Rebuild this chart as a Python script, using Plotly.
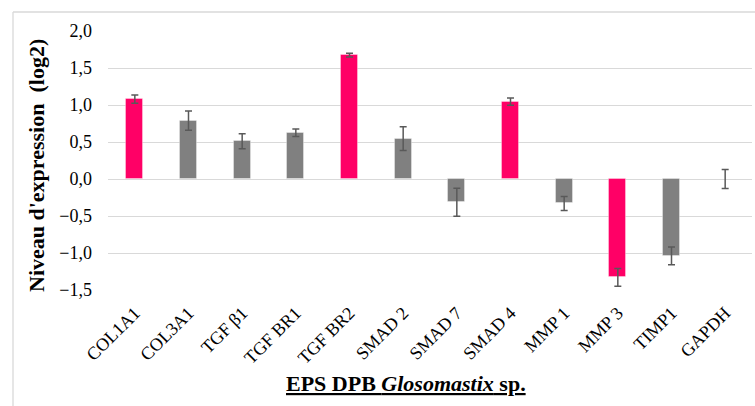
import plotly.graph_objects as go

categories = ["COL1A1", "COL3A1", "TGF β1", "TGF BR1", "TGF BR2", "SMAD 2",
              "SMAD 7", "SMAD 4", "MMP 1", "MMP 3", "TIMP1", "GAPDH"]
values = [1.08, 0.79, 0.51, 0.625, 1.675, 0.545, -0.315, 1.045, -0.33, -1.33, -1.04, 0.0]
errors = [0.055, 0.13, 0.10, 0.05, 0.025, 0.16, 0.19, 0.05, 0.095, 0.12, 0.12, 0.13]
highlight = [True, False, False, False, True, False, False, True, False, True, False, False]
y_ticks = [-1.5, -1.0, -0.5, 0.0, 0.5, 1.0, 1.5, 2.0]

PINK = "#FF0066"
GRAY = "#808080"
colors = [PINK if h else GRAY for h in highlight]

FONT = "Liberation Serif"

fig = go.Figure()
fig.add_trace(go.Bar(
    x=categories, y=values,
    width=0.32,
    marker=dict(color=colors, line=dict(color="rgba(255,255,255,0.35)", width=1)),
    error_y=dict(type="data", array=errors, visible=True,
                 color="#595959", thickness=1.5, width=3.5),
))

W, H = 755, 406
L, R, T, B = 108, 3, 31, 116
pw = W - L - R
ph = H - T - B

bx0 = (13 - L) / pw
bx1 = (W - L) / pw
by1 = 1 + (T - 12) / ph
by0 = -(H - T - ph) / ph

fig.update_layout(
    width=W, height=H,
    margin=dict(l=L, r=R, t=T, b=B, pad=0, autoexpand=False),
    paper_bgcolor="white", plot_bgcolor="white",
    separators=",.",
    showlegend=False,
    font=dict(family=FONT, size=18, color="#000000"),
    bargap=0,
    xaxis=dict(
        tickangle=-45, showgrid=False, zeroline=False, showline=False,
        ticks="", tickfont=dict(family=FONT, size=18, color="#000000"),
        ticklabelstandoff=8, automargin=False,
    ),
    yaxis=dict(
        range=[-1.5, 2.0], tickvals=y_ticks, tickformat=".1f",
        showgrid=True, gridcolor="#d9d9d9", gridwidth=1.3,
        zeroline=True, zerolinecolor="#d9d9d9", zerolinewidth=1.3,
        showline=False, ticks="",
        tickfont=dict(family=FONT, size=18, color="#000000"),
        ticklabelstandoff=15, automargin=False,
    ),
    shapes=[
        dict(type="line", xref="paper", yref="paper",
             x0=bx0, x1=bx1, y0=by1, y1=by1,
             line=dict(color="#d9d9d9", width=1.3), layer="below"),
        dict(type="line", xref="paper", yref="paper",
             x0=bx0, x1=bx0, y0=by0, y1=by1,
             line=dict(color="#d9d9d9", width=1.3), layer="below"),
    ],
    annotations=[
        dict(text="<b>Niveau d'expression  (log2)</b>",
             xref="paper", yref="paper",
             x=(36 - L) / pw, y=1 - (166 - T) / ph,
             textangle=-90, showarrow=False,
             font=dict(family=FONT, size=22, color="#000000"),
             xanchor="center", yanchor="middle"),
        dict(text="<b><u>EPS DPB <i>Glosomastix</i> sp.</u></b>",
             xref="paper", yref="paper",
             x=(406 - L) / pw, y=1 - (383 - T) / ph,
             showarrow=False,
             font=dict(family=FONT, size=22, color="#000000"),
             xanchor="center", yanchor="middle"),
    ],
)

fig.write_html("out.html", config={"displayModeBar": False},
               post_script="document.body.style.margin='0';document.body.style.padding='0';document.body.style.overflow='hidden';document.documentElement.style.overflow='hidden';")
